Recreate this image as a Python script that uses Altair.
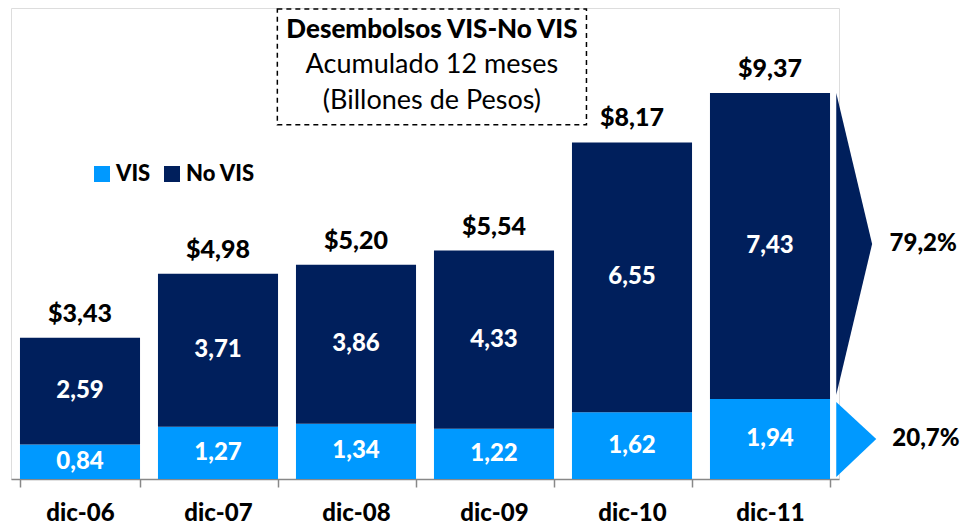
import altair as alt
import pandas as pd

cats = ["dic-06", "dic-07", "dic-08", "dic-09", "dic-10", "dic-11"]
vis = [0.84, 1.27, 1.34, 1.22, 1.62, 1.94]
novis = [2.59, 3.71, 3.86, 4.33, 6.55, 7.43]
totals = [3.43, 4.98, 5.20, 5.54, 8.17, 9.37]
share_labels = ["79,2%", "20,7%"]
title_lines = ["Desembolsos VIS-No VIS", "Acumulado 12 meses", "(Billones de Pesos)"]

C_VIS = "#0099FF"
C_NOVIS = "#001F5C"
FONT = "Lato"
BW = 900

def fmt(v):
    return f"{v:.2f}".replace(".", ",")

rows = []
for c, a, b in zip(cats, vis, novis):
    rows.append({"cat": c, "serie": "VIS", "y0": 0, "y1": a, "lab": fmt(a)})
    rows.append({"cat": c, "serie": "No VIS", "y0": a, "y1": a + b, "lab": fmt(b)})
seg = pd.DataFrame(rows)
seg["mid"] = (seg["y0"] + seg["y1"]) / 2
tot = pd.DataFrame({"cat": cats, "t": totals, "lab": ["$" + fmt(t) for t in totals]})

W, H = 828, 471
YMAX = 471 / 41.19
yscale = alt.Scale(domain=[0, YMAX], nice=False, zero=True)
xband = alt.Scale(paddingInner=0.13, paddingOuter=0.065)

bars = alt.Chart(seg).mark_bar().encode(
    x=alt.X("cat:N", sort=cats, scale=xband, title=None,
            axis=alt.Axis(labelAngle=0, tickBand="extent", labelFont=FONT, labelFontSize=24,
                          labelFontWeight=BW, labelColor="black", labelPadding=14,
                          domainColor="#888888", domainWidth=1.5, tickColor="#888888",
                          tickWidth=1.5, tickSize=8)),
    y=alt.Y("y0:Q", scale=yscale, axis=None),
    y2="y1:Q",
    color=alt.Color("serie:N", scale=alt.Scale(domain=["VIS", "No VIS"], range=[C_VIS, C_NOVIS]),
                    legend=alt.Legend(title=None, orient="none", legendX=80, legendY=155,
                                      direction="horizontal", symbolType="square", symbolSize=256,
                                      symbolStrokeWidth=0, symbolOpacity=1, labelFont=FONT,
                                      labelFontSize=22, labelFontWeight=BW, labelColor="black",
                                      columnPadding=10, labelOffset=3)),
)

seg_text = alt.Chart(seg).mark_text(font=FONT, fontSize=24, fontWeight=BW, color="white",
                                    baseline="middle").encode(
    x=alt.X("cat:N", sort=cats, scale=xband),
    y=alt.Y("mid:Q", scale=yscale),
    text="lab:N",
)

tot_text = alt.Chart(tot).mark_text(font=FONT, fontSize=25, fontWeight=BW, color="black",
                                    baseline="middle", dy=-24).encode(
    x=alt.X("cat:N", sort=cats, scale=xband),
    y=alt.Y("t:Q", scale=yscale),
    text="lab:N",
)

xlin = alt.Scale(domain=[0, 6], nice=False, zero=False)

top_novis = totals[-1]
bot_novis = vis[-1] + 0.1
mid_novis = (top_novis + bot_novis) / 2
arrow_navy = pd.DataFrame({"x": [5.98, 6.24], "ya": [top_novis, mid_novis], "yb": [bot_novis, mid_novis]})
arrow_blue = pd.DataFrame({"x": [5.98, 6.27], "ya": [vis[-1] - 0.07, vis[-1] / 2], "yb": [0.05, vis[-1] / 2]})

def arrow(df, col):
    return alt.Chart(df).mark_area(color=col, opacity=1).encode(
        x=alt.X("x:Q", scale=xlin, axis=None),
        y=alt.Y("ya:Q", scale=yscale),
        y2="yb:Q",
    )

pct = pd.DataFrame({"x": [6.61, 6.63], "y": [mid_novis, vis[-1] / 2], "lab": share_labels})
pct_text = alt.Chart(pct).mark_text(font=FONT, fontSize=24, fontWeight=BW, color="black",
                                    baseline="middle").encode(
    x=alt.X("x:Q", scale=xlin, axis=None),
    y=alt.Y("y:Q", scale=yscale),
    text="lab:N",
)

box = pd.DataFrame({"x": [1.93], "x2": [4.17], "y": [11.41], "y2": [8.6]})
box_mark = alt.Chart(box).mark_rect(fill="white", fillOpacity=0, stroke="black", strokeWidth=1.5,
                                    strokeDash=[5, 4]).encode(
    x=alt.X("x:Q", scale=xlin, axis=None), x2="x2:Q",
    y=alt.Y("y:Q", scale=yscale), y2="y2:Q",
)

tl = pd.DataFrame({"x": [3.05, 3.05, 3.05], "y": [10.9, 10.05, 9.17], "lab": title_lines})
t1 = alt.Chart(tl.iloc[[0]]).mark_text(font=FONT, fontSize=26, fontWeight=BW, color="black",
                                      baseline="middle").encode(
    x=alt.X("x:Q", scale=xlin, axis=None), y=alt.Y("y:Q", scale=yscale), text="lab:N")
t2 = alt.Chart(tl.iloc[[1, 2]]).mark_text(font=FONT, fontSize=27, color="black",
                                         baseline="middle").encode(
    x=alt.X("x:Q", scale=xlin, axis=None), y=alt.Y("y:Q", scale=yscale), text="lab:N")

band_layer = alt.layer(bars, seg_text, tot_text)
lin_layer = alt.layer(arrow(arrow_navy, C_NOVIS), arrow(arrow_blue, C_VIS), pct_text, box_mark, t1, t2)

chart = alt.layer(band_layer, lin_layer).resolve_scale(x="independent").properties(
    width=W, height=H, padding={"left": 3, "top": 0, "right": 0, "bottom": 0}
).configure_view(stroke=None).configure(background="white")

chart.save("out.html", embed_options={"renderer": "svg", "actions": False})
